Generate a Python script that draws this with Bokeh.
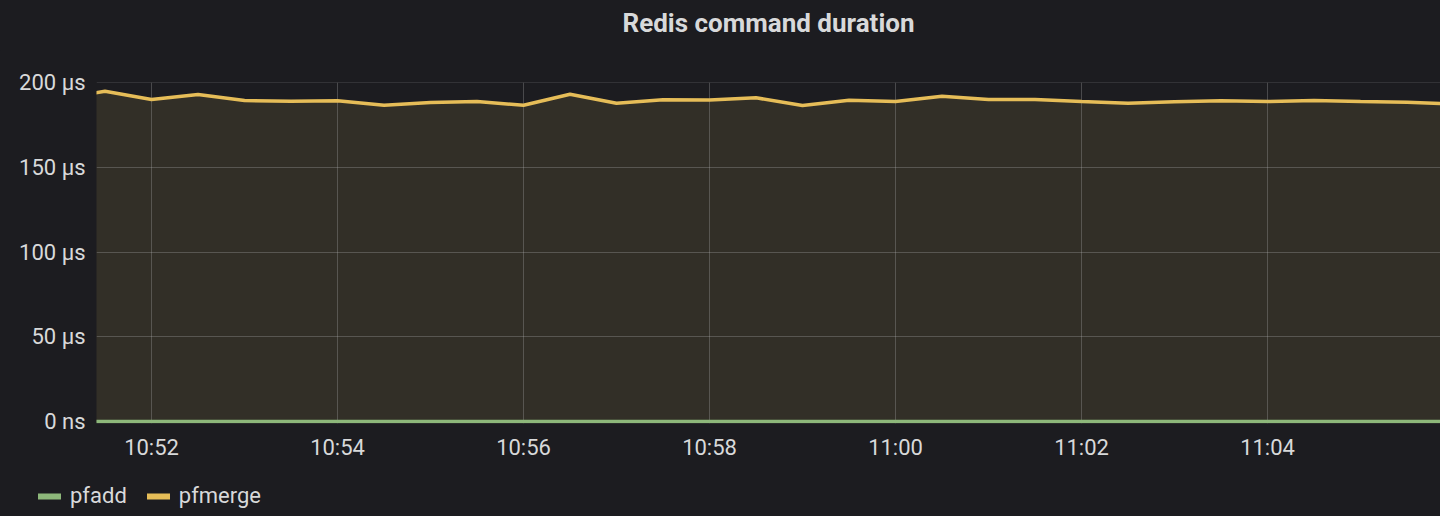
import pandas as pd
from bokeh.plotting import figure
from bokeh.models import (ColumnDataSource, FixedTicker, DatetimeTickFormatter,
                          Legend, LegendItem, Range1d, Label)
from bokeh.embed import file_html
from bokeh.resources import INLINE

DAY = "2020-01-01 "

times = ["10:51:00", "10:51:30", "10:52:00", "10:52:30", "10:53:00", "10:53:30",
         "10:54:00", "10:54:30", "10:55:00", "10:55:30", "10:56:00", "10:56:30",
         "10:57:00", "10:57:30", "10:58:00", "10:58:30", "10:59:00", "10:59:30",
         "11:00:00", "11:00:30", "11:01:00", "11:01:30", "11:02:00", "11:02:30",
         "11:03:00", "11:03:30", "11:04:00", "11:04:30", "11:05:00", "11:05:30",
         "11:06:00"]

pfmerge_us = [190.0, 194.9, 190.0, 192.9, 189.4, 189.0,
              189.2, 186.6, 188.2, 188.8, 186.6, 193.1,
              187.8, 189.8, 189.7, 191.0, 186.4, 189.6,
              188.8, 191.9, 190.0, 190.0, 188.8, 187.8,
              188.6, 189.2, 188.8, 189.4, 188.8, 188.4,
              187.3]

pfadd_us = [0, 0, 0, 0, 0, 0, 0, 0, 0, 0, 0, 0, 0, 0, 0, 0,
            0, 0, 0, 0, 0, 0, 0, 0, 0, 0, 0, 0, 0, 0, 0]

y_ticks = [0, 50, 100, 150, 200]
y_tick_labels = ["0 ns", "50 μs", "100 μs", "150 μs", "200 μs"]
x_ticks = ["10:52", "10:54", "10:56", "10:58", "11:00", "11:02", "11:04"]

series_names = ["pfadd", "pfmerge"]
series_colors = ["#8db77a", "#e6bd58"]

TITLE = "Redis command duration"
BG = "#1c1c20"
FILL = "#322f27"
TEXT = "#d8d9da"
FONT = "Roboto"
W = 1440


def strip(height):
    f = figure(width=W, height=height, output_backend="svg", toolbar_location=None,
               x_axis_location=None, y_axis_location=None, min_border=0,
               x_range=Range1d(0, W), y_range=Range1d(0, height))
    f.background_fill_color = BG
    f.border_fill_color = BG
    f.outline_line_color = None
    f.grid.visible = False
    f.styles = {"background-color": BG}
    return f


# ---- title strip ----
TH = 50
tf = strip(TH)
tf.add_layout(Label(x=(96 + W) / 2, y=TH - 22, text=TITLE, text_align="center",
                    text_baseline="alphabetic", text_font=FONT, text_font_size="26px",
                    text_font_style="bold", text_color=TEXT))

# ---- main chart ----
x = pd.to_datetime([DAY + t for t in times])
src = ColumnDataSource(dict(x=x, pfadd=pfadd_us, pfmerge=pfmerge_us))

x_start = pd.Timestamp(DAY + "10:51:24.5")
x_end = pd.Timestamp(DAY + "11:05:51.6")

p = figure(width=W, height=420, x_axis_type="datetime",
           output_backend="svg", toolbar_location=None,
           x_range=Range1d(x_start, x_end), y_range=Range1d(-1.18, 200.02),
           min_border_left=96, min_border_right=0,
           min_border_top=82 - TH, min_border_bottom=47)
p.background_fill_color = BG
p.border_fill_color = BG
p.outline_line_color = None
p.styles = {"background-color": BG}

# area fill under pfmerge (drawn below the grid)
p.varea(x="x", y1=0, y2="pfmerge", source=src, fill_color=FILL, level="image")
p.line(x="x", y="pfadd", source=src, line_color=series_colors[0], line_width=3.5)
p.line(x="x", y="pfmerge", source=src, line_color=series_colors[1], line_width=3.5)

x_tick_ms = [int(pd.Timestamp(DAY + t).value // 10**6) for t in x_ticks]
p.xaxis.ticker = FixedTicker(ticks=x_tick_ms)
fmt = "%H:%M"
p.xaxis.formatter = DatetimeTickFormatter(seconds=fmt, minsec=fmt, minutes=fmt,
                                          hourmin=fmt, hours=fmt, days=fmt)
p.yaxis.ticker = FixedTicker(ticks=y_ticks)
p.yaxis.major_label_overrides = {t: l for t, l in zip(y_ticks, y_tick_labels)}

for ax in (p.xaxis, p.yaxis):
    ax.axis_line_color = None
    ax.major_tick_line_color = None
    ax.minor_tick_line_color = None
    ax.major_tick_out = 0
    ax.major_tick_in = 0
    ax.major_label_text_font = FONT
    ax.major_label_text_font_size = "22px"
    ax.major_label_text_color = TEXT
    ax.major_label_standoff = 11

for g in (p.xgrid, p.ygrid):
    g.grid_line_color = "#b4b4b4"
    g.grid_line_alpha = 0.3
    g.grid_line_width = 1

# ---- legend strip ----
lg = strip(46)
sw = [lg.line(x=[0], y=[float("nan")], line_color=c, line_width=6, line_cap="round")
      for c in series_colors]
legend = Legend(items=[LegendItem(label=n, renderers=[r]) for n, r in zip(series_names, sw)],
                location=(38, 8), orientation="horizontal",
                padding=0, margin=0, spacing=20, label_standoff=9,
                glyph_width=23, glyph_height=22, label_height=22,
                label_text_font=FONT, label_text_font_size="22px",
                label_text_color=TEXT, background_fill_alpha=0,
                border_line_color=None)
lg.add_layout(legend)

html = file_html([tf, p, lg], INLINE)
html = html.replace("</head>",
                    "<style>html,body{margin:0;background:%s;}</style></head>" % BG, 1)
open("out.html", "w").write(html)
